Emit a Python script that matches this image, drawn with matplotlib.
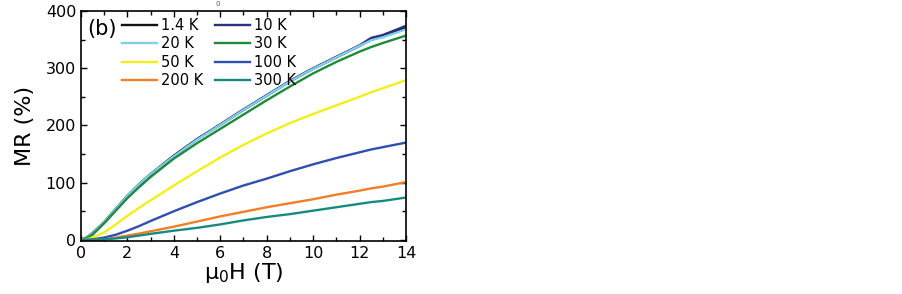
import matplotlib
matplotlib.use("Agg")
import matplotlib.pyplot as plt
from matplotlib.ticker import MultipleLocator

plt.rcParams['font.family'] = ['DejaVu Sans']

field = [0, 0.25, 0.5, 1, 1.5, 2, 2.5, 3, 4, 5, 6, 7, 8, 9, 10, 11, 12, 12.5, 13, 14]

mr_1p4 = [0, 4, 11, 31, 54, 77, 97, 115, 147, 176, 201, 227, 252, 277, 299, 319, 339, 350, 356, 371]
mr_10 = [0, 4, 12, 31, 54, 77, 97, 115, 147, 176, 202, 228, 253, 278, 300, 320, 340, 353, 358, 374]
mr_20 = [0, 4, 11, 31, 54, 77, 97, 115, 146, 175, 201, 227, 252, 277, 299, 319, 339, 349, 354, 368]
mr_30 = [0, 3, 9, 29, 51, 73, 92, 110, 142, 169, 194, 219, 244, 268, 291, 311, 329, 337, 344, 357]
mr_50 = [0, 1, 4, 13, 27, 42, 56, 69, 95, 120, 144, 166, 186, 204, 220, 235, 250, 258, 265, 279]
mr_100 = [0, 0, 1, 4, 9, 16, 24, 33, 50, 66, 81, 95, 107, 120, 132, 143, 153, 158, 162, 170]
mr_200 = [0, 0, 0, 1, 4, 7.5, 11, 15, 23, 32, 41, 49, 57, 64, 71, 79, 86, 90, 93, 101]
mr_300 = [0, 0, 0, 1, 2.5, 4.6, 7.5, 10.5, 16, 21, 27, 34, 40, 45, 51, 57, 63, 66, 68, 74]

labels = ['1.4 K', '10 K', '20 K', '30 K', '50 K', '100 K', '200 K', '300 K']
colors = ['#111111', '#2b2f7f', '#7fd0e6', '#1f8a3a', '#f2ee1a', '#2f4fb0', '#f07f27', '#178a80']
series = [mr_1p4, mr_10, mr_20, mr_30, mr_50, mr_100, mr_200, mr_300]

fig = plt.figure(figsize=(9.03, 2.94), dpi=100)
ax = fig.add_axes([81/903, 1-241/294, (406-81)/903, (241-11)/294])

order = [0, 1, 2, 3, 4, 5, 6, 7]
lines = {}
for i in order:
    ln, = ax.plot(field, series[i], color=colors[i], lw=1.7, label=labels[i],
                  solid_joinstyle='round')
    lines[i] = ln

ax.set_xlim(0, 14)
ax.set_ylim(-2, 400)
ax.xaxis.set_major_locator(MultipleLocator(2))
ax.xaxis.set_minor_locator(MultipleLocator(1))
ax.yaxis.set_major_locator(MultipleLocator(100))
ax.yaxis.set_minor_locator(MultipleLocator(50))
ax.tick_params(which='both', direction='in', top=True, right=True, labelsize=11.5, width=1.0)
ax.tick_params(which='major', length=4)
ax.tick_params(which='minor', length=3)
for s in ax.spines.values():
    s.set_linewidth(1.2)

ax.set_xlabel('μ$_{\\mathregular{0}}$H (T)', fontsize=16, labelpad=0)
ax.set_ylabel('MR (%)', fontsize=16, labelpad=8)

ax.text(0.02, 0.965, '(b)', transform=ax.transAxes, fontsize=15, va='top', ha='left')

handles = [lines[i] for i in [0, 2, 4, 6, 1, 3, 5, 7]]
hl = [labels[i] for i in [0, 2, 4, 6, 1, 3, 5, 7]]
leg = ax.legend(handles, hl, ncol=2, loc='upper left', bbox_to_anchor=(0.105, 1.0),
                frameon=False, fontsize=10.5, handlelength=2.4, handletextpad=0.25,
                labelspacing=0.22, columnspacing=0.8, borderaxespad=0.1)

fig.text(218/903, 1-4/294, '0', fontsize=5, ha='center', va='center', color='#555555')

fig.savefig('out.png', dpi=100)
